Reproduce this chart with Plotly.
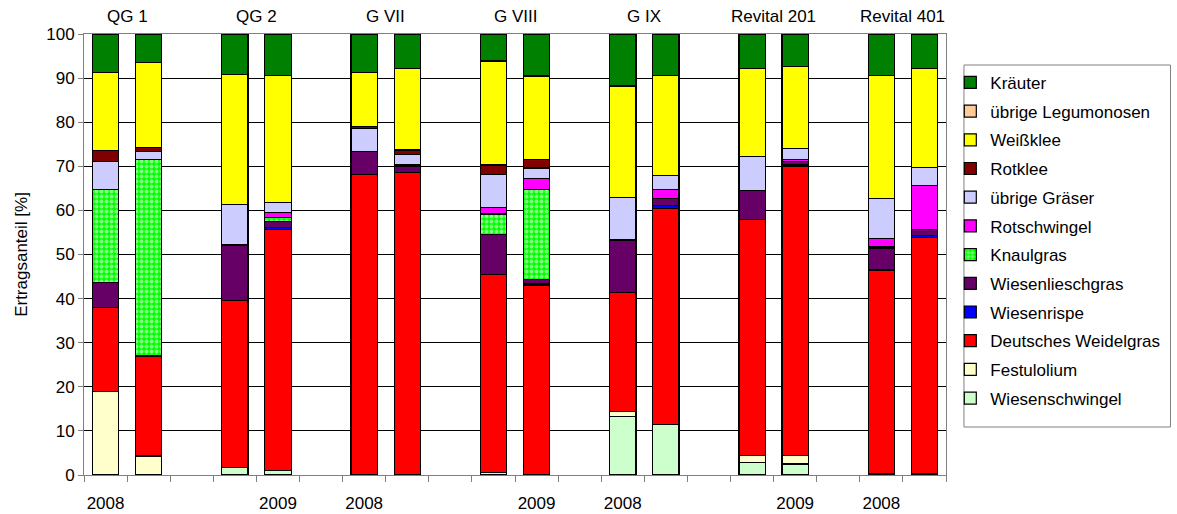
import plotly.graph_objects as go

groups = ["QG 1", "QG 2", "G VII", "G VIII", "G IX", "Revital 201", "Revital 401"]
years = ["2008", "2009"]

# values per bar: order QG1-2008, QG1-2009, QG2-2008, QG2-2009, ... Revital401-2009
wiesenschwingel = [0, 0, 1.7, 1.0, 0, 0, 0.6, 0, 13.2, 11.5, 2.9, 2.5, 0.3, 0.3]
festulolium = [18.9, 4.3, 0, 0, 0, 0, 0, 0, 1.2, 0, 1.5, 1.9, 0, 0]
weidelgras = [19.0, 22.5, 37.8, 54.6, 68.2, 68.6, 44.8, 43.1, 26.9, 49.0, 53.6, 65.5, 46.2, 53.6]
wiesenrispe = [0, 0, 0, 0.5, 0, 0, 0, 0.4, 0, 0.7, 0, 0.4, 0, 0.5]
wiesenlieschgras = [5.7, 0.3, 12.5, 1.3, 5.1, 1.3, 9.2, 0.8, 12.0, 1.5, 6.5, 0.8, 4.8, 1.2]
knaulgras = [21.2, 44.5, 0.3, 1.0, 0, 0, 4.6, 20.4, 0, 0, 0, 0, 0.4, 0]
rotschwingel = [0, 0, 0, 1.1, 0, 0.4, 1.5, 2.6, 0, 2.0, 0, 0.4, 2.0, 10.0]
uebrige_graeser = [6.3, 1.7, 9.0, 2.3, 5.3, 2.4, 7.5, 2.3, 9.7, 3.3, 7.8, 2.5, 9.0, 4.2]
rotklee = [2.4, 0.9, 0, 0, 0.4, 1.0, 2.1, 2.0, 0, 0, 0, 0, 0, 0]
weissklee = [17.7, 19.3, 29.6, 28.7, 12.2, 18.4, 23.6, 18.9, 25.2, 22.5, 19.8, 18.7, 27.8, 22.3]
uebrige_legumonosen = [0, 0, 0, 0, 0, 0, 0, 0, 0, 0, 0, 0, 0, 0]
kraeuter = [8.8, 6.5, 9.1, 9.5, 8.8, 7.9, 6.1, 9.5, 11.8, 9.5, 7.9, 7.3, 9.5, 7.9]

# bottom to top
series = [
    ("Wiesenschwingel", wiesenschwingel, "#CCFFCC"),
    ("Festulolium", festulolium, "#FFFFCC"),
    ("Deutsches Weidelgras", weidelgras, "#FF0000"),
    ("Wiesenrispe", wiesenrispe, "#0000FF"),
    ("Wiesenlieschgras", wiesenlieschgras, "#660066"),
    ("Knaulgras", knaulgras, "#00FF00"),
    ("Rotschwingel", rotschwingel, "#FF00FF"),
    ("übrige Gräser", uebrige_graeser, "#CCCCFF"),
    ("Rotklee", rotklee, "#800000"),
    ("Weißklee", weissklee, "#FFFF00"),
    ("übrige Legumonosen", uebrige_legumonosen, "#FFCC99"),
    ("Kräuter", kraeuter, "#008000"),
]

slots_per_group = 3
xpos = [g * slots_per_group + k for g in range(len(groups)) for k in range(len(years))]
n_slots = len(groups) * slots_per_group - 1

FONT = "Arial, Liberation Sans, sans-serif"
fig = go.Figure()
for i, (name, vals, col) in enumerate(series):
    y = [v if v else None for v in vals]
    marker = dict(color=col, line=dict(color="black", width=1.2))
    if name == "Knaulgras":
        marker["pattern"] = dict(shape=".", fgcolor="white", bgcolor="#00FF00",
                                 size=5, solidity=0.5, fillmode="overlay")
    fig.add_trace(go.Bar(x=xpos, y=y, name=name, marker=marker, width=0.61,
                         legendgroup=name, legendrank=len(series) - i,
                         hoverinfo="name+y"))

# x tick labels: category labels (2008, 2009, "") shown for every second slot
tickvals, ticktext = [], []
for i in range(0, n_slots, 2):
    k = i % slots_per_group
    if k < len(years):
        tickvals.append(i)
        ticktext.append(years[k])

for g, name in enumerate(groups):
    fig.add_annotation(x=g * slots_per_group + 0.5, y=1, xref="x", yref="paper",
                       text=name, showarrow=False, yanchor="middle", yshift=18,
                       font=dict(family=FONT, size=17, color="black"))

fig.update_layout(
    width=1177, height=514,
    margin=dict(l=84, r=229, t=34, b=39),
    barmode="stack",
    plot_bgcolor="white", paper_bgcolor="white",
    font=dict(family=FONT, size=17, color="black"),
    showlegend=True,
    legend=dict(traceorder="grouped", tracegroupgap=3.6,
                x=1.005, xanchor="left", y=0.93, yanchor="top",
                font=dict(family=FONT, size=17, color="black"),
                bgcolor="rgba(0,0,0,0)", borderwidth=0, itemwidth=30),
    xaxis=dict(range=[-0.5, n_slots - 0.5], tickvals=tickvals, ticktext=ticktext,
               ticks="", showgrid=False, zeroline=False, automargin=False,
               showline=True, linecolor="#808080", linewidth=1, mirror=True,
               ticklabelstandoff=13,
               tickfont=dict(family=FONT, size=17, color="black"),
               minor=dict(tickvals=[i - 0.5 for i in range(n_slots + 1)],
                          ticks="outside", ticklen=6, tickcolor="#808080", showgrid=False)),
    yaxis=dict(range=[0, 100], dtick=10, ticks="outside", ticklen=5, tickcolor="#808080",
               showgrid=True, gridcolor="#000000", gridwidth=1, zeroline=False,
               automargin=False,
               showline=True, linecolor="#808080", linewidth=1, mirror=True,
               tickfont=dict(family=FONT, size=17, color="black"),
               title=dict(text="Ertragsanteil [%]", standoff=14,
                          font=dict(family=FONT, size=17, color="black"))),
)

# legend frame
fig.add_shape(type="rect", xref="paper", yref="paper",
              x0=(966 - 84) / 864, x1=(1173 - 84) / 864,
              y0=(475 - 427) / 441, y1=(475 - 65) / 441,
              line=dict(color="#808080", width=1), fillcolor="rgba(0,0,0,0)")

fig.write_html("out.html")
